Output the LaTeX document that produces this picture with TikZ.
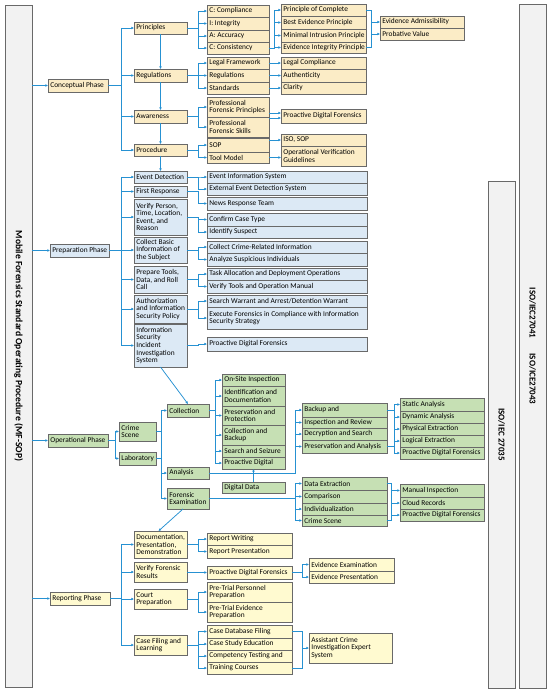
\documentclass[tikz,border=0pt]{standalone}
\usepackage{fontspec}
\setmainfont{Carlito}
\usetikzlibrary{arrows.meta}
\definecolor{lnc}{RGB}{38,145,210}
\definecolor{bdc}{RGB}{105,105,105}
\definecolor{fcc}{HTML}{FBECC6}
\definecolor{fpc}{HTML}{DCE9F5}
\definecolor{foc}{HTML}{C6E0B4}
\definecolor{frc}{HTML}{FFFAD0}
\definecolor{fbc}{HTML}{F2F2F2}
\tikzset{
 bxs/.style={draw=bdc, line width=0.7pt, inner sep=0pt, outer sep=0pt},
 cb/.style={bxs, fill=fcc}, pb/.style={bxs, fill=fpc}, ob/.style={bxs, fill=foc}, rb/.style={bxs, fill=frc},
 txt/.style={inner sep=0pt, align=left, font=\fontsize{7.4}{7.6}\selectfont},
 barbox/.style={draw=bdc, fill=fbc, line width=0.8pt, inner sep=0pt, outer sep=0pt},
 bartxt/.style={rotate=-90, inner sep=0pt, font=\fontsize{9}{10}\selectfont\bfseries},
 arr/.style={draw=lnc, line width=0.75pt, -{Latex[length=2.6pt,width=2.6pt]}},
 lnk/.style={draw=lnc, line width=0.75pt},
}
\newcommand{\bx}[7]{%
 \pgfmathsetmacro{\bxw}{#5-#3}\pgfmathsetmacro{\bxh}{#6-#4}%
 \node[#1, anchor=north west, minimum width=\bxw pt, minimum height=\bxh pt] (#2) at (#3,#4) {};
 \node[txt, anchor=west] (#2t) at ([xshift=2.2pt]#2.west) {#7};}
\newcommand{\fan}[3]{\foreach \ch in {#3}{\draw[arr] (#1.east) -- (#1.east -| #2) |- (\ch.west);}}
\begin{document}
\begin{tikzpicture}[x=1pt,y=-1pt]
\fill[white] (0,0) rectangle (550,694);
\useasboundingbox (0,0) rectangle (550,694);
% side bars
\node[barbox, anchor=north west, minimum width=27pt, minimum height=682pt] (mfs) at (5,5) {};
\node[bartxt, font=\fontsize{9.6}{10}\selectfont\bfseries] (mfsl) at (mfs.center) {Mobile Forensics Standard Operating Procedure (MF-SOP)};
\node[barbox, anchor=north west, minimum width=27pt, minimum height=684pt] (iso1) at (519,4) {};
\node[bartxt] (iso1l) at (iso1.center) {ISO/IEC27041\hspace{15pt}ISO/ICE27043};
\node[barbox, anchor=north west, minimum width=27pt, minimum height=507pt] (iso2) at (488,181) {};
\node[bartxt] (iso2l) at (iso2.center) {ISO/IEC 27035};
% ---------- Conceptual ----------
\bx{cb}{cp}{48}{79}{108}{92}{Conceptual Phase}
\bx{cb}{pr}{134}{22}{187}{34}{Principles}
\bx{cb}{rg}{134}{69}{187}{82}{Regulations}
\bx{cb}{aw}{134}{110}{187}{123}{Awareness}
\bx{cb}{pc}{134}{144}{187}{156}{Procedure}
\bx{cb}{c1}{207}{5}{269}{17}{C: Compliance}
\bx{cb}{c2}{207}{17}{269}{30}{I: Integrity}
\bx{cb}{c3}{207}{30}{269}{42}{A: Accuracy}
\bx{cb}{c4}{207}{42}{269}{54}{C: Consistency}
\bx{cb}{r1}{207}{57}{269}{69}{Legal Framework}
\bx{cb}{r2}{207}{69}{269}{82}{Regulations}
\bx{cb}{r3}{207}{82}{269}{94}{Standards}
\bx{cb}{a1}{207}{97}{269}{117}{Professional\\Forensic Principles}
\bx{cb}{a2}{207}{117}{269}{137}{Professional\\Forensic Skills}
\bx{cb}{s1}{207}{138}{269}{152}{SOP}
\bx{cb}{s2}{207}{152}{269}{163}{Tool Model}
\bx{cb}{p1}{281}{4}{366}{16}{Principle of Complete}
\bx{cb}{p2}{281}{16}{366}{29}{Best Evidence Principle}
\bx{cb}{p3}{281}{29}{366}{42}{Minimal Intrusion Principle}
\bx{cb}{p4}{281}{42}{366}{53}{Evidence Integrity Principle}
\bx{cb}{l1}{281}{57}{366}{69}{Legal Compliance}
\bx{cb}{l2}{281}{69}{366}{82}{Authenticity}
\bx{cb}{l3}{281}{82}{366}{94}{Clarity}
\bx{cb}{pd1}{281}{109}{366}{123}{Proactive Digital Forensics}
\bx{cb}{is1}{281}{134}{366}{146}{ISO, SOP}
\bx{cb}{ov}{281}{146}{366}{166}{Operational Verification\\Guidelines}
\bx{cb}{ea}{380}{16}{464}{28}{Evidence Admissibility}
\bx{cb}{pv}{380}{28}{464}{40}{Probative Value}
% ---------- Preparation ----------
\bx{pb}{pp}{50}{244}{109}{257}{Preparation Phase}
\bx{pb}{ed}{134}{171}{187}{183}{Event Detection}
\bx{pb}{fr}{134}{186}{187}{197}{First Response}
\bx{pb}{vp}{134}{199}{187}{235}{Verify Person,\\Time, Location,\\Event, and\\Reason}
\bx{pb}{cbi}{134}{237}{187}{263}{Collect Basic\\Information of\\the Subject}
\bx{pb}{pt}{134}{266}{187}{293}{Prepare Tools,\\Data, and Roll\\Call}
\bx{pb}{au}{134}{295}{187}{323}{Authorization\\and Information\\Security Policy}
\bx{pb}{iss}{134}{324}{187}{367}{Information\\Security\\Incident\\Investigation\\System}
\bx{pb}{e1}{207}{171}{367}{183}{Event Information System}
\bx{pb}{e2}{207}{183}{367}{195}{External Event Detection System}
\bx{pb}{e3}{207}{197}{367}{210}{News Response Team}
\bx{pb}{e4}{207}{213}{367}{226}{Confirm Case Type}
\bx{pb}{e5}{207}{226}{367}{238}{Identify Suspect}
\bx{pb}{e6}{207}{241}{367}{253}{Collect Crime-Related Information}
\bx{pb}{e7}{207}{253}{367}{266}{Analyze Suspicious Individuals}
\bx{pb}{e8}{207}{268}{367}{280}{Task Allocation and Deployment Operations}
\bx{pb}{e9}{207}{280}{367}{293}{Verify Tools and Operation Manual}
\bx{pb}{e10}{207}{295}{367}{307}{Search Warrant and Arrest/Detention Warrant}
\bx{pb}{e11}{207}{307}{367}{329}{Execute Forensics in Compliance with Information\\Security Strategy}
\bx{pb}{e12}{207}{337}{367}{351}{Proactive Digital Forensics}
% ---------- Operational ----------
\bx{ob}{op}{48}{434}{108}{447}{Operational Phase}
\bx{ob}{csn}{119}{422}{156}{441}{Crime\\Scene}
\bx{ob}{lab}{119}{452}{156}{465}{Laboratory}
\bx{ob}{col}{167}{404}{209}{417}{Collection}
\bx{ob}{ana}{167}{467}{209}{479}{Analysis}
\bx{ob}{fex}{167}{488}{209}{509}{Forensic\\Examination}
\bx{ob}{o1}{222}{374}{285}{386}{On-Site Inspection}
\bx{ob}{o2}{222}{386}{285}{406}{Identification and\\Documentation}
\bx{ob}{o3}{222}{406}{285}{425}{Preservation and\\Protection}
\bx{ob}{o4}{222}{425}{285}{445}{Collection and\\Backup}
\bx{ob}{o5}{222}{445}{285}{457}{Search and Seizure}
\bx{ob}{o6}{222}{457}{285}{469}{Proactive Digital}
\bx{ob}{dd}{222}{482}{285}{493}{Digital Data}
\bx{ob}{b1}{302}{403}{387}{417}{Backup and}
\bx{ob}{b2}{302}{417}{387}{428}{Inspection and Review}
\bx{ob}{b3}{302}{428}{387}{440}{Decryption and Search}
\bx{ob}{b4}{302}{440}{387}{453}{Preservation and Analysis}
\bx{ob}{sa1}{400}{398}{484}{411}{Static Analysis}
\bx{ob}{sa2}{400}{411}{484}{423}{Dynamic Analysis}
\bx{ob}{sa3}{400}{423}{484}{435}{Physical Extraction}
\bx{ob}{sa4}{400}{435}{484}{447}{Logical Extraction}
\bx{ob}{sa5}{400}{447}{484}{459}{Proactive Digital Forensics}
\bx{ob}{d1}{302}{477}{387}{490}{Data Extraction}
\bx{ob}{d2}{302}{490}{387}{503}{Comparison}
\bx{ob}{d3}{302}{503}{387}{515}{Individualization}
\bx{ob}{d4}{302}{515}{387}{526}{Crime Scene}
\bx{ob}{m1}{400}{484}{484}{497}{Manual Inspection}
\bx{ob}{m2}{400}{497}{484}{509}{Cloud Records}
\bx{ob}{m3}{400}{509}{484}{521}{Proactive Digital Forensics}
% ---------- Reporting ----------
\bx{rb}{rp}{50}{592}{110}{605}{Reporting Phase}
\bx{rb}{doc}{134}{531}{187}{558}{Documentation,\\Presentation,\\Demonstration}
\bx{rb}{vf}{134}{562}{187}{582}{Verify Forensic\\Results}
\bx{rb}{cpr}{134}{589}{187}{609}{Court\\Preparation}
\bx{rb}{cfl}{134}{635}{187}{655}{Case Filing and\\Learning}
\bx{rb}{rw}{207}{533}{292}{545}{Report Writing}
\bx{rb}{rpr}{207}{545}{292}{558}{Report Presentation}
\bx{rb}{rpd}{207}{566}{292}{579}{Proactive Digital Forensics}
\bx{rb}{ptp}{207}{582}{292}{602}{Pre-Trial Personnel\\Preparation}
\bx{rb}{pte}{207}{602}{292}{622}{Pre-Trial Evidence\\Preparation}
\bx{rb}{k1}{207}{625}{292}{638}{Case Database Filing}
\bx{rb}{k2}{207}{638}{292}{650}{Case Study Education}
\bx{rb}{k3}{207}{650}{292}{662}{Competency Testing and}
\bx{rb}{k4}{207}{662}{292}{674}{Training Courses}
\bx{rb}{ee}{309}{558}{394}{571}{Evidence Examination}
\bx{rb}{ep}{309}{571}{394}{583}{Evidence Presentation}
\bx{rb}{ace}{309}{633}{392}{663}{Assistant Crime\\Investigation Expert\\System}
% ---------- bus coordinates ----------
\coordinate (bx1) at (121,0);
\coordinate (bx2) at (198,0);
\coordinate (bx3) at (274,0);
\coordinate (bx4) at (371,0);
\coordinate (bo1) at (115,0);
\coordinate (bo2) at (161,0);
\coordinate (bo3) at (215,0);
\coordinate (bo4) at (295,0);
\coordinate (bo5) at (394,0);
\coordinate (bo6) at (391,0);
\coordinate (br3) at (302,0);
% ---------- connectors ----------
\foreach \ph in {cp,pp,op,rp} {\draw[arr] (mfs.east |- \ph.west) -- (\ph.west);}
% conceptual
\fan{cp}{bx1}{pr,rg,aw,pc}
\fan{pr}{bx2}{c1,c2,c3,c4}
\fan{rg}{bx2}{r1,r2,r3}
\fan{aw}{bx2}{a1,a2}
\fan{pc}{bx2}{s1,s2}
\draw[arr] (pr.south) -- (rg.north);
\draw[arr] (rg.south) -- (aw.north);
\draw[arr] (aw.south) -- (pc.north);
\draw[arr] (pc.south) -- (ed.north);
\fan{c4}{bx3}{p1,p2,p3,p4}
\draw[lnk] (p1.east) -- (p1.east -| bx4) -- (bx4 |- p4.east) -- (p4.east);
\draw[arr] (bx4 |- ea.west) -- (ea.west);
\draw[arr] (bx4 |- pv.west) -- (pv.west);
\draw[arr] (r1.east) -- (l1.west);
\draw[arr] (r2.east) -- (l2.west);
\draw[arr] (r3.east) -- (l3.west);
\draw[arr] ([yshift=4pt]a1.south east) -- ([yshift=4pt]a1.south east -| pd1.west);
\draw[arr] ([yshift=-1pt]a2.north east) -- ([yshift=-1pt]a2.north east -| pd1.west);
\draw[arr] (is1.west -| s1.east) -- (is1.west);
\draw[arr] (s2.east) -- (s2.east -| ov.west);
% preparation
\fan{pp}{bx1}{ed,fr,vp,cbi,pt,au,iss}
\fan{ed}{bx2}{e1,e2}
\fan{fr}{bx2}{e3}
\fan{vp}{bx2}{e4,e5}
\fan{cbi}{bx2}{e6,e7}
\fan{pt}{bx2}{e8,e9}
\fan{au}{bx2}{e10,e11}
\fan{iss}{bx2}{e12}
\draw[arr] (iss.south) -- (col.north);
% operational
\fan{op}{bo1}{csn,lab}
\fan{csn}{bo2}{col,ana,fex}
\draw[lnk] (lab.east) -- (lab.east -| bo2);
\fan{col}{bo3}{o1,o2,o3,o4,o5,o6}
\fan{ana}{bo4}{b1,b2,b3,b4}
\fan{fex}{bo4}{d1,d2,d3,d4}
\draw[arr] (dd.north) -- (o6.south);
\draw[lnk] (b1.east) -- (b1.east -| bo5);
\draw[lnk] (b4.east) -- (b4.east -| bo5);
\draw[lnk] (bo5 |- sa1.west) -- (bo5 |- sa5.west);
\foreach \ch in {sa1,sa2,sa3,sa4,sa5} {\draw[arr] (bo5 |- \ch.west) -- (\ch.west);}
\draw[lnk] (d1.east) -- (d1.east -| bo6) -- (bo6 |- d4.east) -- (d4.east);
\foreach \ch in {m1,m2,m3} {\draw[arr] (bo6 |- \ch.west) -- (\ch.west);}
\draw[arr] ([xshift=-5pt]fex.south) -- ([xshift=-2pt]doc.north);
% reporting
\fan{rp}{bx1}{doc,vf,cpr,cfl}
\fan{doc}{bx2}{rw,rpr}
\fan{vf}{bx2}{rpd}
\fan{cpr}{bx2}{ptp,pte}
\fan{cfl}{bx2}{k1,k2,k3,k4}
\fan{rpd}{br3}{ee,ep}
\draw[lnk] (k1.east) -- (k1.east -| br3) -- (br3 |- k4.east) -- (k4.east);
\draw[arr] (br3 |- ace.west) -- (ace.west);
\end{tikzpicture}
\end{document}
